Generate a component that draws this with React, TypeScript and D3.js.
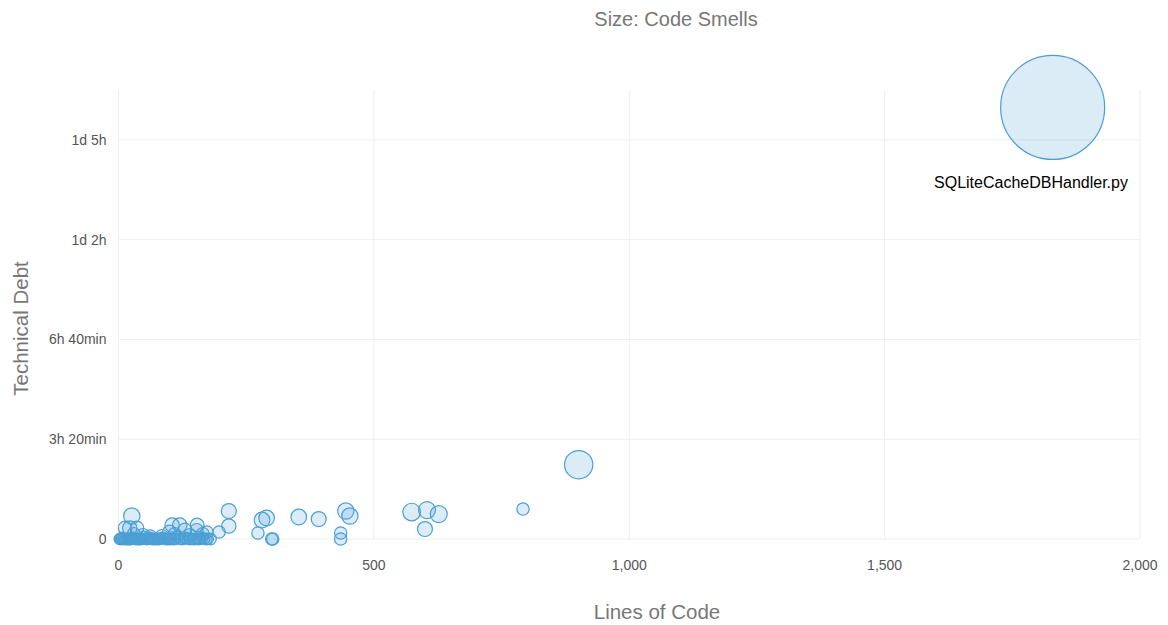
import React, { useEffect } from "react";
import * as d3 from "d3";

// one entry per file: lines of code, technical debt (minutes), code smells
const linesOfCode = [
  1829, 901, 792, 574, 604, 627, 600, 445, 453, 435, 435, 353, 392, 281, 290, 273, 300, 302,
  216, 216, 197, 173, 154, 153, 120, 105, 130, 26, 22, 13, 36, 30, 48, 62, 85, 110, 140, 165, 100,
  2, 5, 9, 13, 18, 22, 27, 32, 37, 42, 47, 52, 58, 64, 70, 76, 82, 90, 97, 104, 112, 120, 128,
  136, 145, 152, 160, 168, 175, 4, 11, 16, 24, 34, 44, 55, 67, 79, 94, 108, 124, 140, 157, 172,
  7, 20, 29, 39, 50, 61, 73, 86, 100, 116, 132, 148, 164, 180,
];
const techDebt = [
  865, 149, 60, 54, 58, 50, 20, 56, 46, 12, 0, 44, 40, 38, 42, 12, 0, 0,
  56, 26, 14, 14, 28, 18, 28, 28, 18, 46, 22, 22, 22, 10, 8, 6, 6, 10, 8, 10, 14,
  0, 0, 0, 0, 0, 0, 0, 0, 0, 0, 0, 0, 0, 0, 0, 0, 0, 0, 0, 0, 0, 0, 0,
  0, 0, 0, 0, 0, 0, 0, 0, 0, 0, 0, 0, 0, 0, 0, 0, 0, 0, 0, 0, 0,
  2, 0, 2, 0, 4, 2, 0, 2, 0, 4, 2, 0, 2, 0,
];
const codeSmells = [
  140, 26, 2, 10, 9, 9, 6, 8, 8, 2, 2, 7, 6, 7, 7, 2, 2, 2,
  6, 5, 2, 2, 4, 3, 5, 5, 4, 8, 5, 4, 4, 3, 3, 2, 3, 3, 3, 3, 4,
  0, 0, 0, 0, 0, 0, 0, 0, 0, 0, 0, 0, 0, 0, 0, 0, 0, 0, 0, 0, 0, 0, 0,
  0, 0, 0, 0, 0, 0, 1, 1, 1, 1, 1, 1, 1, 1, 1, 1, 1, 1, 1, 1, 1,
  1, 1, 1, 1, 1, 1, 1, 1, 1, 1, 1, 1, 1, 1,
];
const labelledFile = "SQLiteCacheDBHandler.py";

const xTicks = [0, 500, 1000, 1500, 2000];
const yTicks = [0, 200, 400, 600, 800];
const yTickLabels = ["0", "3h 20min", "6h 40min", "1d 2h", "1d 5h"];

const W = 1168;
const H = 625;
const margin = { top: 90, right: 28, bottom: 86, left: 118.5 };
const font = "'Helvetica Neue', Helvetica, Arial, 'Liberation Sans', sans-serif";

export default function App() {
  useEffect(() => {
    document.body.style.margin = "0";
  }, []);

  const x = d3.scaleLinear().domain([0, 2000]).range([margin.left, W - margin.right]);
  const y = d3.scaleLinear().domain([0, 900]).range([H - margin.bottom, margin.top]);
  const r = d3.scaleLinear().domain([0, d3.max(codeSmells) as number]).range([5.5, 52]);
  const fmt = d3.format(",");

  const points = linesOfCode.map((v, i) => ({ loc: v, debt: techDebt[i], smells: codeSmells[i] }));
  const sorted = [...points].sort((a, b) => b.smells - a.smells);
  const big = points[0];
  const labelX = Math.min(x(big.loc), x(2000) - 109);

  return (
    <svg width={W} height={H} style={{ display: "block" }} fontFamily={font}>
      <text x={676} y={26} textAnchor="middle" fontSize={20} fill="#777">
        Size: Code Smells
      </text>
      {yTicks.map((t) => (
        <line key={"gy" + t} x1={x(0)} x2={x(2000)} y1={y(t)} y2={y(t)} stroke="#eee" />
      ))}
      {xTicks.map((t) => (
        <line key={"gx" + t} x1={x(t)} x2={x(t)} y1={y(0)} y2={margin.top} stroke="#eee" />
      ))}
      {yTicks.map((t, i) => (
        <text key={"ty" + t} x={x(0) - 12} y={y(t)} dy="0.35em" textAnchor="end" fontSize={14} fill="#555">
          {yTickLabels[i]}
        </text>
      ))}
      {xTicks.map((t) => (
        <text key={"tx" + t} x={x(t)} y={y(0) + 31} textAnchor="middle" fontSize={14} fill="#555">
          {fmt(t)}
        </text>
      ))}
      <text x={657} y={619} textAnchor="middle" fontSize={20.5} fill="#777">
        Lines of Code
      </text>
      <text
        transform={`translate(28, ${(y(0) + margin.top) / 2 + 14}) rotate(-90)`}
        textAnchor="middle"
        fontSize={20.5}
        fill="#777"
      >
        Technical Debt
      </text>
      {sorted.map((p, i) => (
        <circle
          key={i}
          cx={x(p.loc)}
          cy={y(p.debt)}
          r={r(p.smells)}
          fill="rgba(75,159,213,0.2)"
          stroke="rgb(75,159,213)"
          strokeWidth={1.2}
        />
      ))}
      <text x={labelX} y={y(big.debt) + r(big.smells) + 29} textAnchor="middle" fontSize={16} fill="#000">
        {labelledFile}
      </text>
    </svg>
  );
}
